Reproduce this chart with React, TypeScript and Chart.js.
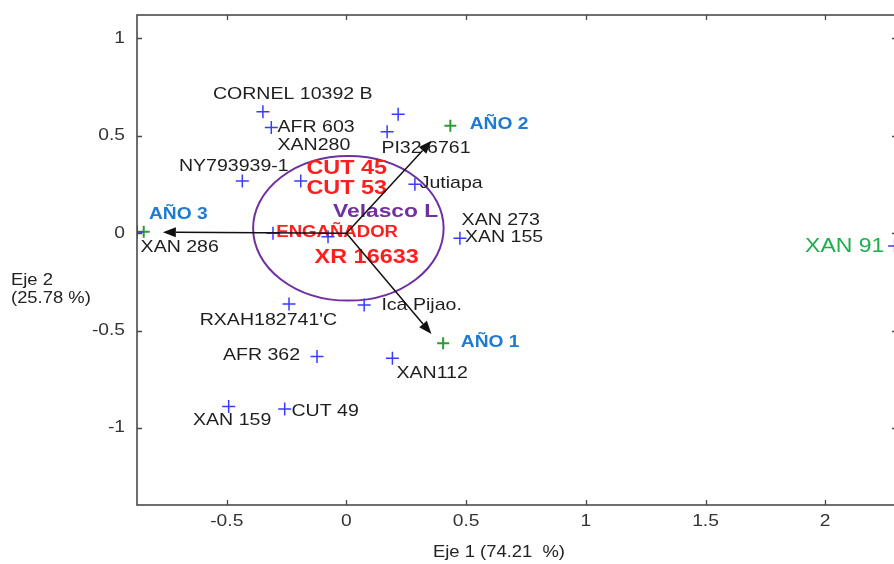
import React, { useEffect, useRef } from "react";
import { Chart, registerables } from "chart.js";
Chart.register(...registerables);

// ---- axis ticks ----
const xTicks = [-0.5, 0, 0.5, 1, 1.5, 2];
const xTickLabels = ["-0.5", "0", "0.5", "1", "1.5", "2"];
const yTicks = [-1, -0.5, 0, 0.5, 1];
const yTickLabels = ["-1", "-0.5", "0", "0.5", "1"];
const xTitle = "Eje 1 (74.21  %)";
const yTitleLines = ["Eje 2", "(25.78 %)"];

// ---- genotype scores (blue crosses) ----
const genotypeNames = [
  "CORNEL 10392 B", "AFR 603", "XAN280", "PI32 6761", "NY793939-1", "CUT 45",
  "Jutiapa", "XAN 286", "ENGAÑADOR", "XR 16633", "XAN 155", "RXAH182741'C",
  "Ica Pijao.", "AFR 362", "XAN112", "XAN 159", "CUT 49", "XAN 91",
];
const genotypeX = [-0.349, -0.314, 0.216, 0.170, -0.435, -0.191, 0.286, -0.875, -0.307, -0.077, 0.474, -0.240, 0.074, -0.123, 0.192, -0.492, -0.258, 2.29];
const genotypeY = [0.623, 0.543, 0.611, 0.521, 0.268, 0.268, 0.251, 0.006, 0.0, -0.018, -0.026, -0.363, -0.368, -0.633, -0.642, -0.890, -0.902, -0.066];

// ---- environment scores (green crosses) and vectors ----
const envNames = ["AÑO 1", "AÑO 2", "AÑO 3"];
const envX = [0.404, 0.434, -0.847];
const envY = [-0.565, 0.551, 0.008];
const vectorX = [0.355, 0.355, -0.767];
const vectorY = [-0.517, 0.474, 0.005];

// ---- ellipse (center and radii in data units) ----
const ellipseCenter = [0.008, 0.025];
const ellipseRadii = [0.398, 0.371];

// ---- text annotations (anchor = left / middle, data units) ----
const labelTexts = [
  "CORNEL 10392 B", "AFR 603", "XAN280", "PI32 6761", "NY793939-1", "CUT 45", "CUT 53",
  "Jutiapa", "Velasco L", "XAN 273", "XAN 155", "ENGAÑADOR", "XAN 286", "XR 16633",
  "Ica Pijao.", "RXAH182741'C", "AFR 362", "XAN112", "XAN 159", "CUT 49", "XAN 91",
  "AÑO 1", "AÑO 2", "AÑO 3",
];
const labelX = [-0.558, -0.288, -0.288, 0.146, -0.700, -0.167, -0.167, 0.306, -0.056, 0.481, 0.495, -0.293, -0.860, -0.133, 0.146, -0.613, -0.516, 0.209, -0.641, -0.230, 1.916, 0.478, 0.515, -0.825];
const labelY = [0.712, 0.546, 0.449, 0.435, 0.341, 0.333, 0.230, 0.256, 0.110, 0.068, -0.021, 0.005, -0.074, -0.124, -0.368, -0.445, -0.625, -0.718, -0.962, -0.915, -0.069, -0.559, 0.560, 0.093];
const labelKinds = [
  "gen", "gen", "gen", "gen", "gen", "redBig", "redBig", "gen", "purple", "gen", "gen", "redMid", "gen", "redBig",
  "gen", "gen", "gen", "gen", "gen", "gen", "green", "env", "env", "env",
];

const FONT = "'Liberation Sans', Arial, Helvetica, sans-serif";
const kindStyles: Record<string, { font: string; color: string; stretch: number }> = {
  gen: { font: `17px ${FONT}`, color: "#1e1e1e", stretch: 1.15 },
  redBig: { font: `bold 20px ${FONT}`, color: "#ff1e1e", stretch: 1.17 },
  redMid: { font: `bold 16px ${FONT}`, color: "#ff1e1e", stretch: 1.16 },
  purple: { font: `bold 19px ${FONT}`, color: "#7030a0", stretch: 1.2 },
  env: { font: `bold 16px ${FONT}`, color: "#1f7bd2", stretch: 1.2 },
  green: { font: `20px ${FONT}`, color: "#1fae4c", stretch: 1.15 },
};

function drawText(ctx: CanvasRenderingContext2D, text: string, x: number, y: number, font: string, color: string, align: CanvasTextAlign, stretch: number) {
  ctx.save();
  ctx.font = font;
  ctx.fillStyle = color;
  ctx.textBaseline = "middle";
  ctx.textAlign = align;
  ctx.translate(x, y);
  ctx.scale(stretch, 1);
  ctx.fillText(text, 0, 0);
  ctx.restore();
}

const biplotPlugin = {
  id: "biplot",
  beforeDatasetsDraw(chart: any) {
    const { ctx, scales } = chart;
    const xs = scales.x, ys = scales.y;
    const ca = chart.chartArea;
    ctx.save();
    ctx.beginPath();
    ctx.rect(ca.left, ca.top, ca.right - ca.left, ca.bottom - ca.top);
    ctx.clip();
    const cx = xs.getPixelForValue(ellipseCenter[0]);
    const cy = ys.getPixelForValue(ellipseCenter[1]);
    const rx = Math.abs(xs.getPixelForValue(ellipseCenter[0] + ellipseRadii[0]) - cx);
    const ry = Math.abs(ys.getPixelForValue(ellipseCenter[1] + ellipseRadii[1]) - cy);
    ctx.beginPath();
    ctx.ellipse(cx, cy, rx, ry, 0, 0, Math.PI * 2);
    ctx.strokeStyle = "#7030a0";
    ctx.lineWidth = 2;
    ctx.stroke();
    labelTexts.forEach((t, i) => {
      const st = kindStyles[labelKinds[i]];
      drawText(ctx, t, xs.getPixelForValue(labelX[i]), ys.getPixelForValue(labelY[i]), st.font, st.color, "left", st.stretch);
    });
    ctx.restore();
  },
  afterDatasetsDraw(chart: any) {
    const { ctx, scales } = chart;
    const xs = scales.x, ys = scales.y;
    ctx.save();
    const ox = xs.getPixelForValue(0);
    const oy = ys.getPixelForValue(0);
    vectorX.forEach((vx, i) => {
      const tx = xs.getPixelForValue(vx);
      const ty = ys.getPixelForValue(vectorY[i]);
      const ang = Math.atan2(ty - oy, tx - ox);
      const hl = 13, hw = 5;
      const bx = tx - hl * Math.cos(ang);
      const by = ty - hl * Math.sin(ang);
      ctx.beginPath();
      ctx.moveTo(ox, oy);
      ctx.lineTo(bx, by);
      ctx.strokeStyle = "#111";
      ctx.lineWidth = 1.5;
      ctx.stroke();
      ctx.beginPath();
      ctx.moveTo(tx, ty);
      ctx.lineTo(bx + hw * Math.sin(ang), by - hw * Math.cos(ang));
      ctx.lineTo(bx - hw * Math.sin(ang), by + hw * Math.cos(ang));
      ctx.closePath();
      ctx.fillStyle = "#111";
      ctx.fill();
    });
    ctx.restore();
  },
  afterDraw(chart: any) {
    const { ctx, scales } = chart;
    const xs = scales.x, ys = scales.y;
    const ca = chart.chartArea;
    ctx.save();
    ctx.strokeStyle = "#4a4a4a";
    ctx.lineWidth = 1.6;
    ctx.strokeRect(ca.left, ca.top, ca.right - ca.left, ca.bottom - ca.top);
    const tl = 5;
    ctx.lineWidth = 1.3;
    ctx.beginPath();
    xTicks.forEach((v) => {
      const px = Math.round(xs.getPixelForValue(v)) + 0.5;
      ctx.moveTo(px, ca.bottom);
      ctx.lineTo(px, ca.bottom - tl);
      ctx.moveTo(px, ca.top);
      ctx.lineTo(px, ca.top + tl);
    });
    yTicks.forEach((v) => {
      const py = Math.round(ys.getPixelForValue(v)) + 0.5;
      ctx.moveTo(ca.left, py);
      ctx.lineTo(ca.left + tl, py);
      ctx.moveTo(ca.right, py);
      ctx.lineTo(ca.right - tl, py);
    });
    ctx.stroke();
    const tickFont = `16px ${FONT}`;
    xTicks.forEach((v, i) => {
      drawText(ctx, xTickLabels[i], xs.getPixelForValue(v), ca.bottom + 17, tickFont, "#333", "center", 1.2);
    });
    yTicks.forEach((v, i) => {
      drawText(ctx, yTickLabels[i], ca.left - 12, ys.getPixelForValue(v), tickFont, "#333", "right", 1.2);
    });
    drawText(ctx, xTitle, 433, ca.bottom + 48, `16px ${FONT}`, "#222", "left", 1.15);
    drawText(ctx, yTitleLines[0], 11, 281, `16px ${FONT}`, "#222", "left", 1.15);
    drawText(ctx, yTitleLines[1], 11, 299, `16px ${FONT}`, "#222", "left", 1.15);
    ctx.restore();
  },
};

export default function App() {
  const ref = useRef<HTMLCanvasElement | null>(null);
  useEffect(() => {
    if (!ref.current) return;
    const chart = new Chart(ref.current, {
      type: "scatter",
      data: {
        datasets: [
          {
            label: "Genotipos",
            data: genotypeX.map((x, i) => ({ x, y: genotypeY[i], name: genotypeNames[i] })),
            pointStyle: "cross",
            pointRadius: 6.5,
            pointBorderWidth: 1.5,
            borderColor: "#3b3bff",
            backgroundColor: "#3b3bff",
          },
          {
            label: "Ambientes",
            data: envX.map((x, i) => ({ x, y: envY[i], name: envNames[i] })),
            pointStyle: "cross",
            pointRadius: 6,
            pointBorderWidth: 2,
            borderColor: "#2e9a35",
            backgroundColor: "#2e9a35",
          },
        ],
      },
      options: {
        animation: false,
        responsive: false,
        devicePixelRatio: 1,
        events: [],
        layout: { autoPadding: false, padding: { left: 0, top: 15, right: 3, bottom: 0 } },
        plugins: { legend: { display: false }, tooltip: { enabled: false } },
        scales: {
          x: {
            type: "linear",
            min: -0.875,
            max: 2.3,
            grid: { display: false },
            border: { display: false },
            ticks: { display: false },
            afterFit: (s: any) => { s.height = 59; },
          },
          y: {
            type: "linear",
            min: -1.395,
            max: 1.12,
            grid: { display: false },
            border: { display: false },
            ticks: { display: false },
            afterFit: (s: any) => { s.width = 137; },
          },
        },
      },
      plugins: [biplotPlugin],
    } as any);
    return () => chart.destroy();
  }, []);
  return (
    <div style={{ position: "fixed", left: 0, top: 0, width: 894, height: 564, overflow: "hidden", background: "#fff" }}>
      <canvas ref={ref} width={900} height={564} style={{ width: 900, height: 564, display: "block" }} />
    </div>
  );
}
